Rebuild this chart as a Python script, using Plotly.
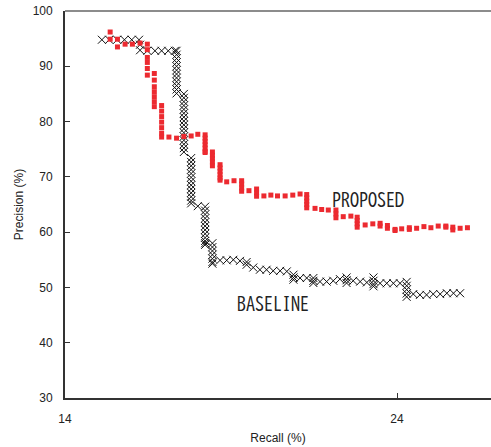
import plotly.graph_objects as go

# ---- data ----
proposed_recall = [
    15.36, 15.36, 15.58, 15.58, 15.81, 16.03, 16.26,
    16.48, 16.48, 16.48, 16.48, 16.48, 16.48,
    16.69, 16.69, 16.69, 16.69, 16.69, 16.69, 16.69,
    16.91, 16.91, 16.91, 16.91, 16.91, 16.91, 16.91,
    17.13, 17.36, 17.58, 17.80, 18.00,
    18.22, 18.22, 18.22, 18.22, 18.22, 18.22, 18.22,
    18.44, 18.44, 18.44, 18.44, 18.44,
    18.67, 18.67, 18.67, 18.67, 18.67, 18.67,
    18.87, 19.09,
    19.32, 19.32, 19.32, 19.32,
    19.54,
    19.77, 19.77, 19.77,
    19.99, 20.20, 20.40, 20.63, 20.86, 21.08,
    21.28, 21.28, 21.28, 21.28, 21.28,
    21.53, 21.73, 21.93,
    22.16, 22.16, 22.16,
    22.38, 22.61,
    22.80, 22.80, 22.80, 22.80,
    23.04, 23.27,
    23.49, 23.49,
    23.71, 23.71,
    23.94, 23.94,
    24.14,
    24.37, 24.37,
    24.59, 24.81, 25.02, 25.24,
    25.47, 25.47,
    25.68, 25.68,
    25.90, 26.12,
]
proposed_precision = [
    96.2, 94.9, 94.9, 93.5, 94.0, 94.0, 94.2,
    94.0, 93.0, 91.6, 90.7, 89.6, 88.4,
    88.7, 87.5, 86.3, 85.4, 84.5, 83.6, 82.7,
    82.9, 81.9, 80.9, 79.9, 78.9, 77.9, 77.2,
    77.2, 77.0, 77.3, 77.4, 77.7,
    77.6, 77.0, 76.4, 75.8, 75.2, 74.6, 74.4,
    74.5, 73.9, 73.3, 72.7, 72.0,
    72.2, 71.6, 71.0, 70.4, 69.8, 69.4,
    69.1, 69.3,
    69.3, 68.7, 68.0, 67.4,
    67.5,
    67.8, 67.1, 66.5,
    66.55, 66.7, 66.55, 66.55, 66.7, 66.9,
    66.8, 66.2, 65.6, 65.0, 64.4,
    64.3, 64.1, 64.0,
    64.0, 63.3, 62.6,
    62.8, 62.9,
    62.7, 62.1, 61.5, 60.9,
    61.3, 61.5,
    61.6, 61.1,
    61.2, 60.7,
    60.5, 60.3,
    60.6,
    60.8, 60.5,
    60.7, 61.0, 60.8, 61.1,
    61.1, 60.9,
    60.9, 60.4,
    60.7, 60.8,
]

baseline_recall = [
    15.11, 15.33, 15.57, 15.79, 16.01, 16.23,
    16.26, 16.26,
    16.48, 16.71, 16.91, 17.11, 17.31,
    17.36, 17.36, 17.36, 17.36, 17.36, 17.36, 17.36, 17.36, 17.36, 17.36, 17.36, 17.36,
    17.58, 17.58, 17.58, 17.58, 17.58, 17.58, 17.58, 17.58, 17.58, 17.58, 17.58, 17.58,
    17.58, 17.58, 17.58, 17.58,
    17.80, 17.80, 17.80, 17.80, 17.80, 17.80, 17.80, 17.80, 17.80, 17.80, 17.80, 17.80, 17.80,
    18.00,
    18.22, 18.22, 18.22, 18.22, 18.22, 18.22, 18.22, 18.22, 18.22, 18.22, 18.22, 18.22,
    18.44, 18.44, 18.44, 18.44, 18.44, 18.44, 18.44,
    18.67, 18.87, 19.07, 19.27, 19.47, 19.47,
    19.67, 19.87, 20.07, 20.27, 20.48, 20.68,
    20.88, 20.88, 20.88,
    21.08, 21.28,
    21.48, 21.48, 21.48,
    21.68, 21.88, 22.08, 22.28,
    22.48, 22.48, 22.48,
    22.68, 22.89, 23.09,
    23.29, 23.29, 23.29, 23.29,
    23.49, 23.69, 23.89, 24.09,
    24.29, 24.29, 24.29, 24.29, 24.29,
    24.49, 24.69, 24.89, 25.09, 25.30, 25.50, 25.70, 25.90,
]
baseline_precision = [
    94.8, 94.8, 94.8, 94.8, 94.8, 94.8,
    93.9, 92.9,
    92.8, 92.8, 92.8, 92.8, 92.8,
    92.8, 92.1, 91.4, 90.7, 90.0, 89.3, 88.6, 87.9, 87.2, 86.5, 85.8, 85.1,
    85.0, 84.3, 83.6, 82.9, 82.2, 81.5, 80.8, 80.1, 79.4, 78.7, 78.0, 77.3,
    76.6, 75.9, 75.2, 74.5,
    73.4, 72.7, 72.0, 71.3, 70.6, 69.9, 69.2, 68.5, 67.8, 67.1, 66.4, 65.7, 65.2,
    64.7,
    64.6, 63.9, 63.2, 62.5, 61.8, 61.1, 60.4, 59.7, 59.0, 58.4, 58.0, 57.7,
    58.0, 57.3, 56.6, 55.9, 55.2, 54.6, 54.3,
    54.9, 54.9, 55.0, 54.8, 54.6, 54.1,
    53.6, 53.2, 53.2, 53.0, 53.0, 52.9,
    52.3, 51.8, 51.4,
    51.7, 51.7,
    51.7, 51.2, 50.8,
    51.05, 51.05, 51.2, 51.5,
    51.8, 51.3, 50.8,
    51.2, 51.05, 50.9,
    51.8, 51.2, 50.6, 50.2,
    50.75, 50.75, 50.75, 50.75,
    51.0, 50.3, 49.6, 48.9, 48.3,
    48.8, 48.65, 48.65, 48.8, 48.8, 48.95, 48.95, 48.95,
]

x_ticks = [14, 24]
y_ticks = [30, 40, 50, 60, 70, 80, 90, 100]

labels = ["PROPOSED", "BASELINE"]
label_x = [23.13, 20.27]
label_y = [65.9, 47.0]

fig = go.Figure()
fig.add_trace(go.Scatter(
    x=baseline_recall, y=baseline_precision, mode="markers",
    marker=dict(symbol="x-thin-open", size=8, color="#111111",
                line=dict(color="#111111", width=1)),
    showlegend=False, name="BASELINE",
))
fig.add_trace(go.Scatter(
    x=proposed_recall, y=proposed_precision, mode="markers",
    marker=dict(symbol="square", size=5, color="#ec2a30", line=dict(width=0)),
    showlegend=False, name="PROPOSED",
))

label_font = "BIZ UDGothic, Barlow Condensed, sans-serif"
for t, xx, yy in zip(labels, label_x, label_y):
    fig.add_annotation(x=xx, y=yy, text=t, showarrow=False,
                       font=dict(family=label_font, size=18, color="#222222"))

fig.add_shape(type="line", xref="paper", yref="paper", x0=0, x1=1, y0=1, y1=1,
              line=dict(color="#666666", width=1.5))

base_font = "Liberation Sans, Arial, sans-serif"
fig.update_xaxes(range=[14, 26.83], tickvals=x_ticks, ticks="inside", ticklen=5,
                 tickcolor="#333333", showline=True, linecolor="#333333", linewidth=1.8,
                 showgrid=False, zeroline=False, ticklabelstandoff=9,
                 tickfont=dict(family=base_font, size=12, color="#222222"),
                 title=dict(text="Recall (%)", standoff=8,
                            font=dict(family=base_font, size=12, color="#222222")))
fig.update_yaxes(range=[30, 100], tickvals=y_ticks, ticks="inside", ticklen=5,
                 tickcolor="#333333", showline=True, linecolor="#333333", linewidth=1.8,
                 showgrid=False, zeroline=False, ticklabelstandoff=8,
                 tickfont=dict(family=base_font, size=12, color="#222222"),
                 title=dict(text="Precision (%)", standoff=6,
                            font=dict(family=base_font, size=12, color="#222222")))

fig.update_layout(width=491, height=447, margin=dict(l=65, r=0, t=11, b=49),
                  paper_bgcolor="white", plot_bgcolor="white", hovermode=False)

# remove the browser's default 8px body margin so the figure fills the window
fig.write_html("out.html", config={"displayModeBar": False},
               post_script="document.body.style.margin='0';")
